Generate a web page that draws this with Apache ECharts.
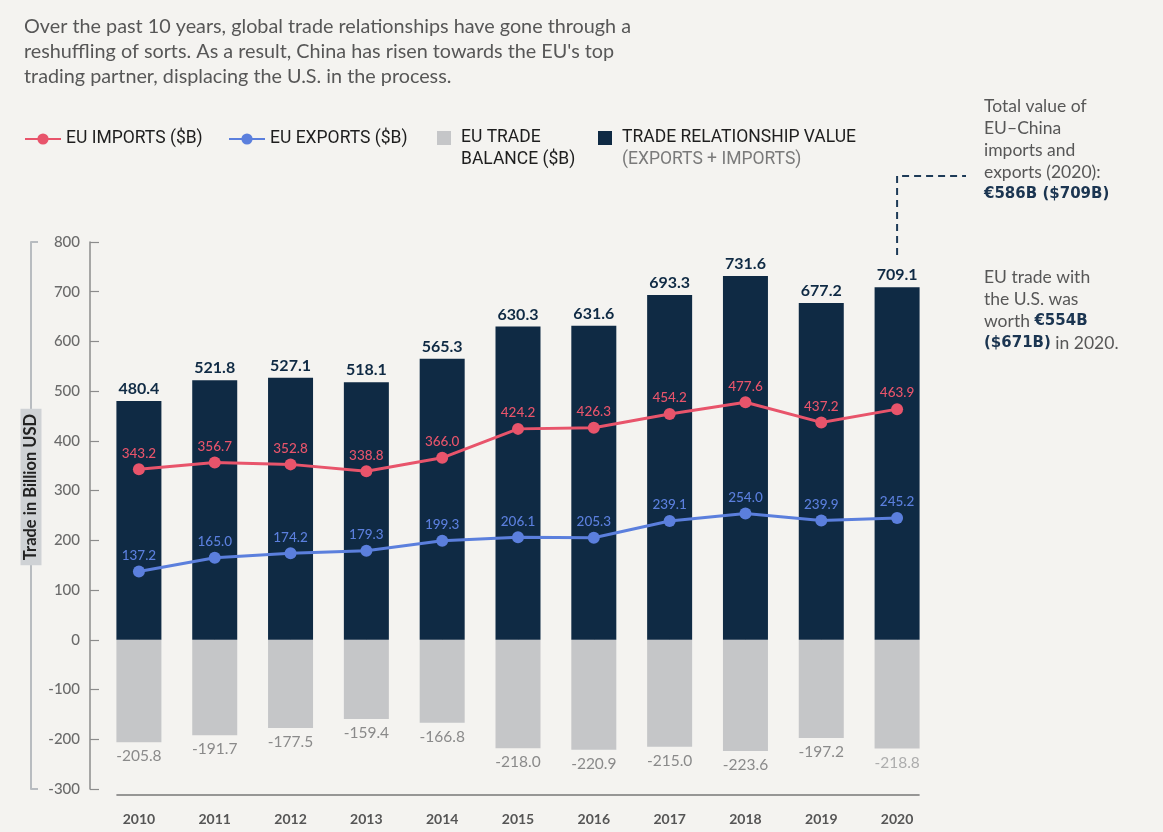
<!DOCTYPE html>
<html>
<head>
<meta charset="utf-8">
<script src="https://cdn.jsdelivr.net/npm/echarts@6/dist/echarts.min.js"></script>
<style>
html,body{margin:0;padding:0;background:#f4f3f0;}
#c{width:1163px;height:832px;}
</style>
</head>
<body>
<div id="c"></div>
<script>
const years = ['2010','2011','2012','2013','2014','2015','2016','2017','2018','2019','2020'];
const tradeValue = [480.4, 521.8, 527.1, 518.1, 565.3, 630.3, 631.6, 693.3, 731.6, 677.2, 709.1];
const euImports = [343.2, 356.7, 352.8, 338.8, 366.0, 424.2, 426.3, 454.2, 477.6, 437.2, 463.9];
const euExports = [137.2, 165.0, 174.2, 179.3, 199.3, 206.1, 205.3, 239.1, 254.0, 239.9, 245.2];
const tradeBalance = [-205.8, -191.7, -177.5, -159.4, -166.8, -218.0, -220.9, -215.0, -223.6, -197.2, -218.8];

const NAVY = '#0f2a44', GRAY = '#c5c6c8', PINK = '#e8546b', BLUE = '#5b7fdd';
const FONT = 'Lato';
const LFONT = 'Roboto';
const fmt = p => Number(p.value).toFixed(1);

const legendText = {color:'#1e1e1e', fontSize:17.5, fontFamily:LFONT,
  rich:{h:{fontSize:17.5, lineHeight:22, fontFamily:LFONT},
        a:{fontSize:17.5, lineHeight:22, color:'#1e1e1e', fontFamily:LFONT, padding:[0,0,0,5]},
        b:{fontSize:17.5, lineHeight:22, color:'#7a7a7a', fontFamily:LFONT, padding:[0,0,0,5]}}};

const chart = echarts.init(document.getElementById('c'), null, {renderer:'canvas'});
chart.setOption({
  backgroundColor:'#f4f3f0',
  animation:false,
  legend:[
    {left:24, top:130, padding:0, selectedMode:false, data:['EU IMPORTS ($B)'], itemWidth:36, itemHeight:14, textStyle:legendText},
    {left:228, top:130, padding:0, selectedMode:false, data:['EU EXPORTS ($B)'], itemWidth:36, itemHeight:14, textStyle:legendText},
    {left:437, top:107, padding:0, selectedMode:false, data:['EU TRADE BALANCE ($B)'], icon:'rect', itemWidth:14, itemHeight:14,
      formatter:()=>'{h| }\n{a|EU TRADE}\n{a|BALANCE ($B)}', textStyle:legendText},
    {left:598, top:107, padding:0, selectedMode:false, data:['TRADE RELATIONSHIP VALUE'], icon:'rect', itemWidth:14, itemHeight:14,
      formatter:()=>'{h| }\n{a|TRADE RELATIONSHIP VALUE}\n{b|(EXPORTS + IMPORTS)}', textStyle:legendText}
  ],
  grid:{left:101, right:228, top:242, bottom:43},
  xAxis:{type:'category', data:years, offset:6,
    axisLine:{show:false},
    axisTick:{show:true, alignWithLabel:true, length:10, lineStyle:{color:'#666', width:1.2}},
    axisLabel:{color:'#555', fontSize:14, fontWeight:'bold', fontFamily:FONT, margin:17}},
  yAxis:[
    {type:'value', min:-300, max:800, interval:100, offset:11,
      axisLine:{show:true, lineStyle:{color:'#8c8c8c', width:1.5}},
      axisTick:{show:true, inside:true, length:9, lineStyle:{color:'#8c8c8c', width:1.2}},
      axisLabel:{color:'#6b6b6b', fontSize:15, fontWeight:500, fontFamily:FONT, margin:10},
      splitLine:{show:false}},
    {type:'value', min:0, max:1100, interval:1100, offset:70, position:'left',
      axisLine:{show:true, lineStyle:{color:'#b8bcc0', width:2}},
      axisTick:{show:true, inside:true, length:7, lineStyle:{color:'#b8bcc0', width:2}},
      axisLabel:{show:false}, splitLine:{show:false}}
  ],
  series:[
    {name:'EU TRADE BALANCE ($B)', type:'bar', barWidth:45, barGap:'-100%',
      itemStyle:{color:GRAY},
      data: tradeBalance.map((v,i)=> i===tradeBalance.length-1 ? {value:v, label:{color:'#adadad'}} : v),
      label:{show:true, position:'bottom', distance:6, color:'#8a8a8a', fontSize:15.5, fontFamily:FONT, formatter:fmt}},
    {name:'TRADE RELATIONSHIP VALUE', type:'bar', barWidth:45, barGap:'-100%',
      itemStyle:{color:NAVY}, data:tradeValue,
      label:{show:true, position:'top', distance:4, color:NAVY, fontSize:16, fontWeight:'bold', fontFamily:FONT, formatter:fmt}},
    {name:'EU IMPORTS ($B)', type:'line', data:euImports, symbol:'circle', symbolSize:12, z:5,
      itemStyle:{color:PINK}, lineStyle:{color:PINK, width:3},
      label:{show:true, position:'top', distance:3, color:PINK, fontSize:13.5, fontWeight:500, fontFamily:FONT, formatter:fmt}},
    {name:'EU EXPORTS ($B)', type:'line', data:euExports, symbol:'circle', symbolSize:12, z:5,
      itemStyle:{color:BLUE}, lineStyle:{color:BLUE, width:3},
      label:{show:true, position:'top', distance:3, color:BLUE, fontSize:13.5, fontWeight:500, fontFamily:FONT, formatter:fmt}}
  ]
});

// decorations positioned from the chart's own scales
const xFirst = chart.convertToPixel({xAxisIndex:0}, years[0]);
const xLast = chart.convertToPixel({xAxisIndex:0}, years[years.length-1]);
const yMin = chart.convertToPixel({yAxisIndex:0}, -300);
const half = 22.5;

chart.setOption({
  graphic:[
    {type:'text', left:24, top:14, z:10, style:{
      text:"Over the past 10 years, global trade relationships have gone through a\nreshuffling of sorts. As a result, China has risen towards the EU's top\ntrading partner, displacing the U.S. in the process.",
      font:'19.8px Lato', fill:'#575757', lineHeight:25}},
    {type:'line', z:10, shape:{x1:xFirst-half, y1:yMin+6, x2:xLast+half, y2:yMin+6}, style:{stroke:'#777', lineWidth:1.5}},
    {type:'text', x:31, y:487, rotation:Math.PI/2, z:10, style:{
      text:'Trade in Billion USD', font:'bold 16.5px Lato', fill:'#222', align:'center', verticalAlign:'middle',
      backgroundColor:'#cfd2d5', padding:[2,5]}},
    {type:'polyline', z:10, shape:{points:[[xLast,255],[xLast,176],[966,176]]},
      style:{stroke:'#1d3a57', lineWidth:2, lineDash:[7,5], fill:null}},
    {type:'text', x:984, y:95, z:10, style:{
      text:'Total value of\nEU–China\nimports and\nexports (2020):\n{b|€586B ($709B)}',
      font:'17.5px Lato', fill:'#575757', lineHeight:22,
      rich:{b:{font:'bold 15px "DejaVu Sans"', fill:'#1b3551', lineHeight:22}}}},
    {type:'text', x:984, y:266, z:10, style:{
      text:'EU trade with\nthe U.S. was\nworth {b|€554B}\n{b|($671B)} in 2020.',
      font:'17.5px Lato', fill:'#575757', lineHeight:22,
      rich:{b:{font:'bold 15px "DejaVu Sans"', fill:'#1b3551', lineHeight:22}}}}
  ]
});
</script>
</body>
</html>
